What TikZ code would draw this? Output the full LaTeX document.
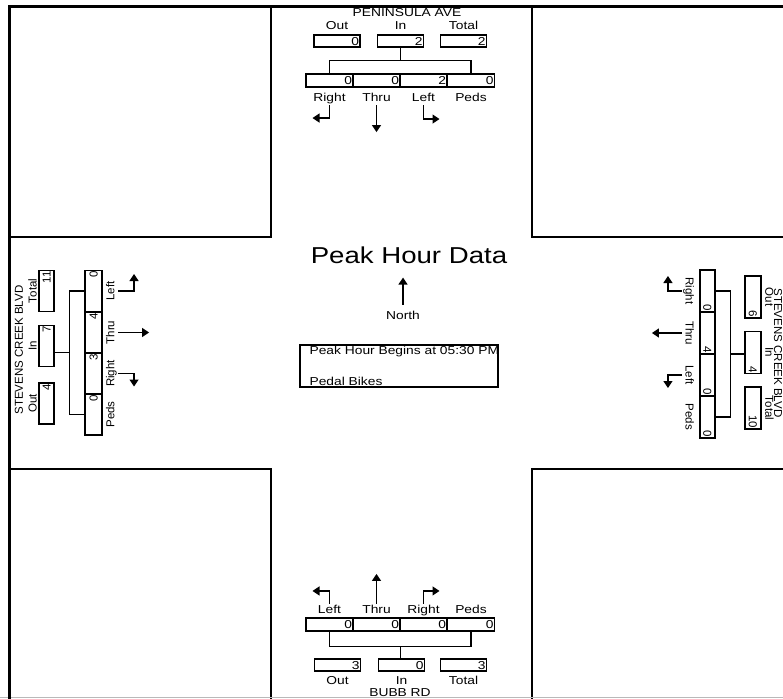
\documentclass[tikz,border=0pt]{standalone}
\usepackage{fontspec}
\setmainfont{Liberation Sans}
\newfontfamily\widefont[FakeStretch=1.2]{Liberation Sans}
\usetikzlibrary{positioning}
\usetikzlibrary{arrows.meta}
\usetikzlibrary{calc}

\begin{document}
\begin{tikzpicture}[x=1pt, y=-1pt,
    hf/.style={font=\widefont\fontsize{11.5}{13}\selectfont},
    vf/.style={font=\fontsize{11.5}{13}\selectfont},
    hcell/.style={draw, line width=1.3pt, inner sep=1pt, text width=#1, align=right,
      text height=8.3pt, text depth=0pt, hf},
    vcell/.style={draw, line width=1.3pt, inner sep=1pt, text width=#1, align=right,
      text height=8.3pt, text depth=0pt, vf},
    lbl/.style={inner sep=1pt, text height=8.5pt, text depth=2.5pt},
    wire/.style={line width=1.2pt},
    mv/.style={line width=1.3pt, -{Triangle[width=9pt,length=7pt]}},
    block/.style={line width=1.2pt}]
            \useasboundingbox (0,0) rectangle (783,698);
            \clip (0,0) rectangle (783,698);
            \fill[white] (0,0) rectangle (783,698);

            % Corner blocks and page frame
            \draw[block] (9,7) rectangle (271,237);
            \draw[block] (532,7) rectangle (800,237);
            \draw[block] (9,469) rectangle (271,710);
            \draw[block] (532,469) rectangle (800,710);
            \draw[gray!55, line width=1pt] (0,697.5) -- (783,697.5);
            \draw[line width=3pt] (9,710) -- (9,7) -- (790,7);

            % North approach
            \node[hf] (nName) at (407,13) {PENINSULA AVE};
            \foreach \n/\x/\v/\t in {Out/337/0/Out, In/400.5/2/In, Tot/463.5/2/Total} {
                \node[hcell=44pt, minimum height=12pt] (n\n) at (\x,41) {\v};
                \node[lbl, hf, above=1pt of n\n] (n\n-l) {\t};
            }
            \foreach \n/\x/\v/\t in {R/329.5/0/Right, T/376.5/0/Thru, L/423.5/2/Left, P/471/0/Peds} {
                \node[hcell=45pt, minimum height=13pt] (n\n) at (\x,80.5) {\v};
                \node[lbl, hf, below=4pt of n\n] (n\n-l) {\t};
            }
            \draw[wire] (nR.north) -- ++(0,-13) -| (nP.north);
            \coordinate (nm) at ($(nR.north)!.5!(nP.north)+(0,-13)$);
            \draw[wire] (nm) -- (nm |- nIn.south);
            \draw[mv] (nR-l.south) |- ++(-17,13);
            \draw[mv] (nT-l.south) -- ++(0,27);
            \draw[mv] (nL-l.south) |- ++(16,14);

            % South approach
            \foreach \n/\x/\v/\t in {L/329.5/0/Left, T/376.5/0/Thru, R/423.5/0/Right, P/471/0/Peds} {
                \node[hcell=45pt, minimum height=13pt] (s\n) at (\x,624.5) {\v};
                \node[lbl, hf, above=0pt of s\n] (s\n-l) {\t};
            }
            \foreach \n/\x/\v/\t in {Out/337.5/3/Out, In/401.5/0/In, Tot/463.5/3/Total} {
                \node[hcell=44pt, minimum height=12pt] (s\n) at (\x,665) {\v};
                \node[lbl, hf, below=3pt of s\n] (s\n-l) {\t};
            }
            \node[hf] (sName) at (400,692.5) {BUBB RD};
            \draw[wire] (sL.south) -- ++(0,15) -| (sP.south);
            \coordinate (sm) at ($(sL.south)!.5!(sP.south)+(0,15)$);
            \draw[wire] (sm) -- (sm |- sIn.north);
            \draw[mv] (sL-l.north) |- ++(-17,-13);
            \draw[mv] (sT-l.north) -- ++(0,-30);
            \draw[mv] (sR-l.north) |- ++(16,-13);

            % West approach
            \node[vf, rotate=90] (wName) at (19,350) {STEVENS CREEK BLVD};
            \foreach \n/\y/\v/\t in {Tot/291/11/Total, In/346/7/In, Out/403.5/4/Out} {
                \node[vcell=39pt, minimum height=15pt, rotate=90] (w\n) at (46.5,\y) {\v};
                \node[lbl, vf, rotate=90, anchor=south] (w\n-l) at ([xshift=2pt]w\n.north) {\t};
            }
            \foreach \n/\y/\v/\t in {L/291/0/Left, T/332.5/4/Thru, R/373.5/3/Right, P/414.5/0/Peds} {
                \node[vcell=39pt, minimum height=17pt, rotate=90] (w\n) at (93.5,\y) {\v};
                \node[lbl, vf, rotate=90, anchor=north] (w\n-l) at ([xshift=2pt]w\n.south) {\t};
            }
            \draw[wire] (wL.north) -- ++(-15,0) |- (wP.north);
            \coordinate (wm) at ($(wL.north)!.5!(wP.north)+(-15,0)$);
            \draw[wire] (wm) -- (wm -| wIn.south);
            \draw[mv] (wL-l.south) -| ++(16,-17);
            \draw[mv] (wT-l.south) -- ++(31,0);
            \draw[mv] (wR-l.south) -| ++(16,13);

            % East approach
            \node[vf, rotate=-90] (eName) at (778,353) {STEVENS CREEK BLVD};
            \foreach \n/\y/\v/\t in {Out/297/6/Out, In/352.5/4/In, Tot/408/10/Total} {
                \node[vcell=40pt, minimum height=16pt, rotate=-90] (e\n) at (753,\y) {\v};
                \node[lbl, vf, rotate=-90, anchor=south] (e\n-l) at (e\n.north) {\t};
            }
            \foreach \n/\y/\v/\t in {R/291/0/Right, T/333/4/Thru, L/375/0/Left, P/417/0/Peds} {
                \node[vcell=40pt, minimum height=15pt, rotate=-90] (e\n) at (707.5,\y) {\v};
                \node[lbl, vf, rotate=-90, anchor=north] (e\n-l) at ([xshift=-4pt]e\n.south) {\t};
            }
            \draw[wire] (eR.north) -- ++(15,0) |- (eP.north);
            \coordinate (em) at ($(eR.north)!.5!(eP.north)+(15,0)$);
            \draw[wire] (em) -- (em -| eIn.south);
            \draw[mv] (eR-l.south) -| ++(-14,-15);
            \draw[mv] (eT-l.south) -- ++(-30,0);
            \draw[mv] (eL-l.south) -| ++(-14,13);

            % Title, north arrow and count info
            \node[font=\widefont\fontsize{23}{27}\selectfont] (title) at (409,255) {Peak Hour Data};
            \node[lbl, hf] (compass) at (403,316.3) {North};
            \draw[mv] ([yshift=5pt]compass.north) -- ++(0,-27);
            \node[draw, line width=1.2pt, minimum width=198pt, minimum height=42pt] (info) at (399,366) {};
            \node[hf, anchor=base west, inner sep=0pt] (begins) at ([xshift=10pt,yshift=-10pt]info.north west) {Peak Hour Begins at 05:30 PM};
            \node[hf, anchor=base west, inner sep=0pt] (mode) at ([xshift=10pt,yshift=-41.5pt]info.north west) {Pedal Bikes};
        \end{tikzpicture}
\end{document}
